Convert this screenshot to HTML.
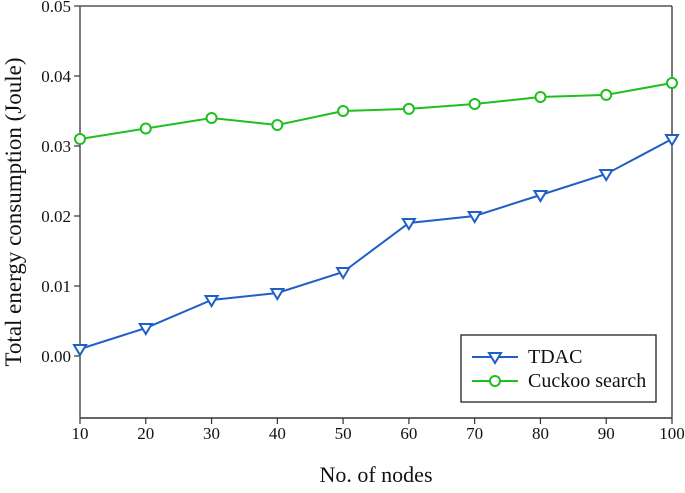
<!DOCTYPE html>
<html><head><meta charset="utf-8"><style>
body{margin:0;background:#fff}
svg text{font-family:"Liberation Serif",serif;fill:#111}
</style></head><body>
<svg width="685" height="488" viewBox="0 0 685 488">
<g id="axes"></g><g id="series"></g>
<g>
<rect x="461" y="335" width="195" height="67" fill="#fff" stroke="#222" stroke-width="1.3"/>
<line x1="472" y1="357" x2="518" y2="357" stroke="#1f5fc7" stroke-width="2"/>
<path d="M489,353 L501,353 L495,363 Z" fill="#fff" stroke="#1f5fc7" stroke-width="2"/>
<text x="528" y="363" font-size="20">TDAC</text>
<line x1="472" y1="381" x2="518" y2="381" stroke="#1fbf1f" stroke-width="2"/>
<circle cx="495" cy="381" r="5" fill="#fff" stroke="#1fbf1f" stroke-width="2"/>
<text x="528" y="387" font-size="20">Cuckoo search</text>
</g>
<text x="376" y="482" font-size="22" text-anchor="middle">No. of nodes</text>
<text transform="translate(21,212) rotate(-90)" font-size="23" text-anchor="middle">Total energy consumption (Joule)</text>
</svg>
<script>
const categories=[10,20,30,40,50,60,70,80,90,100];
const tdac=[0.001,0.004,0.008,0.009,0.012,0.019,0.020,0.023,0.026,0.031];
const cuckoo=[0.031,0.0325,0.034,0.033,0.035,0.0353,0.036,0.037,0.0373,0.039];
const yTicks=[0.00,0.01,0.02,0.03,0.04,0.05];
const yTickLabels=["0.00","0.01","0.02","0.03","0.04","0.05"];
const ns="http://www.w3.org/2000/svg";
const X=v=>80+(v-10)*(672-80)/90;
const Y=v=>356-v*7000;
const L=80,R=672,T=6,B=418;
function mk(t,a,p){const e=document.createElementNS(ns,t);for(const k in a)e.setAttribute(k,a[k]);p.appendChild(e);return e;}
const ax=document.getElementById('axes');
mk('line',{x1:L,y1:T,x2:R,y2:T,stroke:'#333','stroke-width':1.3},ax);
mk('line',{x1:R,y1:T,x2:R,y2:B,stroke:'#333','stroke-width':1.3},ax);
mk('line',{x1:L,y1:T,x2:L,y2:B,stroke:'#555','stroke-width':1.5},ax);
mk('line',{x1:L,y1:B,x2:R,y2:B,stroke:'#333','stroke-width':1.5},ax);
yTicks.forEach((v,i)=>{
 const t=mk('line',{x1:L-6,y1:Y(v),x2:L,y2:Y(v),stroke:'#333','stroke-width':1.2},ax);
 
 
 const s=mk('text',{x:L-9,y:Y(v)+6,'font-size':17,'text-anchor':'end'},ax);
 s.textContent=yTickLabels[i];
 
 
});
categories.forEach(c=>{
 const t=mk('line',{x1:X(c),y1:B,x2:X(c),y2:B+6,stroke:'#333','stroke-width':1.2},ax);
 
 
 const s=mk('text',{x:X(c),y:B+21,'font-size':17,'text-anchor':'middle'},ax);
 s.textContent=c;
 
 
});
const sg=document.getElementById('series');
function series(vals,color,marker,name){
 const p=mk('polyline',{points:vals.map((v,i)=>X(categories[i])+','+Y(v)).join(' '),fill:'none',stroke:color,'stroke-width':2},sg);
 
 
 vals.forEach((v,i)=>{
  const x=X(categories[i]),y=Y(v);let m;
  if(marker==='tri') m=mk('path',{d:`M${x-6},${y-4} L${x+6},${y-4} L${x},${y+6} Z`,fill:'#fff',stroke:color,'stroke-width':2},sg);
  else m=mk('circle',{cx:x,cy:y,r:5,fill:'#fff',stroke:color,'stroke-width':2},sg);
  
  
 });
}
series(tdac,'#1f5fc7','tri','tdac');
series(cuckoo,'#1fbf1f','circ','cuckoo');
</script>
</body></html>
